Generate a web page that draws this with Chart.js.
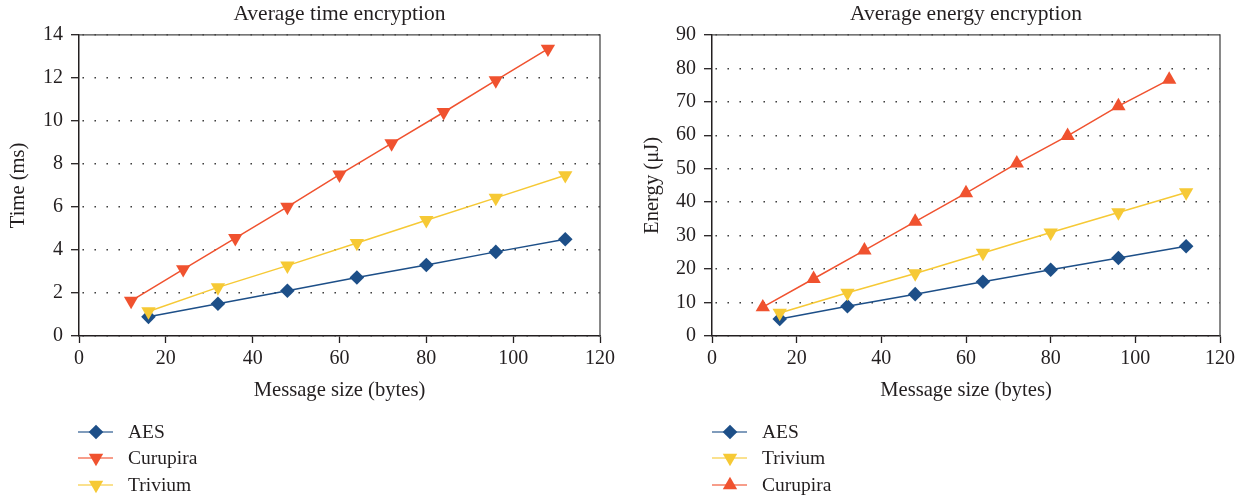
<!DOCTYPE html>
<html>
<head>
<meta charset="utf-8">
<script src="https://cdn.jsdelivr.net/npm/chart.js@4.4.1/dist/chart.umd.min.js"></script>
<style>
  html, body { margin: 0; padding: 0; background: #fff; width: 1246px; height: 498px; overflow: hidden; }
  body { font-family: "Liberation Serif", "Times New Roman", serif; color: #231f20; position: relative; }
  .panel { position: absolute; top: 0; width: 623px; height: 410px; }
  .legend { position: absolute; top: 0; width: 300px; height: 498px; font-size: 19.5px; }
  .legend .row { position: absolute; left: 0; height: 26px; width: 260px; }
  .legend svg { position: absolute; left: 0; top: 0; }
  .legend span { position: absolute; left: 52px; top: 0; line-height: 26px; white-space: nowrap; }
</style>
</head>
<body>
<div class="panel" style="left:0"><canvas id="timeChart" width="623" height="410"></canvas></div>
<div class="panel" style="left:623px"><canvas id="energyChart" width="623" height="410"></canvas></div>
<div class="legend" id="timeLegend" style="left:76px"></div>
<div class="legend" id="energyLegend" style="left:710px"></div>

<script>
// Message sizes (bytes) at which each cipher was measured
const blockSizes = [16, 32, 48, 64, 80, 96, 112];      // AES, Trivium
const curupiraSizes = [12, 24, 36, 48, 60, 72, 84, 96, 108];

// Average encryption time (ms)
const timeAES      = [0.89, 1.50, 2.10, 2.72, 3.30, 3.91, 4.50];
const timeTrivium  = [1.14, 2.26, 3.27, 4.32, 5.38, 6.42, 7.47];
const timeCurupira = [1.63, 3.10, 4.55, 6.00, 7.50, 8.95, 10.40, 11.88, 13.35];

// Average encryption energy (µJ)
const energyAES      = [5.1, 8.9, 12.5, 16.2, 19.8, 23.3, 26.8];
const energyTrivium  = [6.9, 12.9, 18.7, 24.8, 30.9, 36.9, 42.9];
const energyCurupira = [8.6, 17.1, 25.6, 34.2, 42.7, 51.6, 59.8, 68.7, 76.6];

// Axis tick values
const xTicks = [0, 20, 40, 60, 80, 100, 120];
const timeTicks = [0, 2, 4, 6, 8, 10, 12, 14];
const energyTicks = [0, 10, 20, 30, 40, 50, 60, 70, 80, 90];

const INK = '#231f20';
const BLUE = '#1d4f88';
const RED = '#f0522f';
const YELLOW = '#f6c935';

Chart.defaults.font.family = '"Liberation Serif", "Times New Roman", serif';
Chart.defaults.color = INK;

function points(xs, ys) {
  return xs.map((x, i) => ({ x: x, y: ys[i] }));
}

function series(label, xs, ys, color, shape) {
  const down = shape === 'down';
  return {
    label: label,
    data: points(xs, ys),
    borderColor: color,
    backgroundColor: color,
    borderWidth: 1.5,
    pointStyle: shape === 'diamond' ? 'rectRot' : 'triangle',
    pointRotation: down ? 180 : 0,
    pointRadius: shape === 'diamond' ? 7.3 : 8.3,
    pointBorderWidth: 0,
    pointBackgroundColor: color,
    showLine: true,
    fill: false,
    clip: false,
    _shape: shape
  };
}

// Top and right edges of the plotting frame
const framePlugin = {
  id: 'frame',
  beforeDatasetsDraw(chart) {
    const { ctx, chartArea: a } = chart;
    ctx.save();
    ctx.strokeStyle = '#4a4a4a';
    ctx.lineWidth = 1.3;
    ctx.beginPath();
    ctx.moveTo(a.left, a.top);
    ctx.lineTo(a.right, a.top);
    ctx.lineTo(a.right, a.bottom);
    ctx.stroke();
    ctx.restore();
  }
};

function makeChart(id, cfg) {
  const yTicks = cfg.yTicks;
  return new Chart(document.getElementById(id), {
    type: 'scatter',
    data: { datasets: cfg.datasets },
    plugins: [framePlugin],
    options: {
      responsive: false,
      animation: false,
      devicePixelRatio: 1,
      layout: { padding: { left: 0, right: cfg.padRight, top: 0, bottom: 0 } },
      plugins: {
        legend: { display: false },
        tooltip: { enabled: false },
        title: {
          display: true,
          text: cfg.title,
          fullSize: false,
          color: INK,
          font: { size: 21.5, weight: 'normal' },
          padding: { top: 1, bottom: 8 }
        }
      },
      scales: {
        x: {
          type: 'linear',
          min: xTicks[0],
          max: xTicks[xTicks.length - 1],
          afterBuildTicks(s) { s.ticks = xTicks.map(v => ({ value: v })); },
          afterFit(s) { s.height = 74; },
          ticks: { padding: 4, color: INK, font: { size: 20 }, maxRotation: 0 },
          grid: {
            drawOnChartArea: false,
            drawTicks: true,
            tickLength: 7,
            tickColor: INK,
            tickWidth: 1.3
          },
          border: { color: INK, width: 1.5 },
          title: {
            display: true,
            text: 'Message size (bytes)',
            color: INK,
            font: { size: 20.6 },
            padding: { top: 0, bottom: 7 }
          }
        },
        y: {
          type: 'linear',
          min: yTicks[0],
          max: yTicks[yTicks.length - 1],
          afterBuildTicks(s) { s.ticks = yTicks.map(v => ({ value: v })); },
          afterFit(s) { s.width = cfg.yWidth; },
          ticks: { padding: 8, color: INK, font: { size: 20 } },
          grid: {
            color: '#2a2a2a',
            lineWidth: 1.4,
            drawTicks: true,
            tickLength: 8,
            tickColor: INK,
            tickWidth: 1.3,
            tickBorderDash: []
          },
          // dotted horizontal grid lines; the axis line itself stays solid
          border: { color: INK, width: 1.5, dash: [1.4, 10.6], dashOffset: -3 },
          title: {
            display: true,
            text: cfg.yTitle,
            color: INK,
            font: { size: 20.6 },
            padding: { top: cfg.yTitlePad, bottom: 0 }
          }
        }
      }
    }
  });
}

// Legend rows: short line with the series marker, then the name
function markerSvg(ds) {
  const c = ds.borderColor;
  let shape;
  if (ds._shape === 'diamond') {
    shape = '<polygon points="20,5.7 27.3,13 20,20.3 12.7,13" fill="' + c + '"/>';
  } else if (ds._shape === 'down') {
    shape = '<polygon points="12.8,8.8 27.2,8.8 20,21.3" fill="' + c + '"/>';
  } else {
    shape = '<polygon points="20,4.7 27.2,17.2 12.8,17.2" fill="' + c + '"/>';
  }
  return '<svg width="40" height="26"><line x1="2" y1="13" x2="37" y2="13" stroke="' + c +
         '" stroke-opacity="0.75" stroke-width="1.6"/>' + shape + '</svg>';
}

function buildLegend(id, datasets, tops) {
  const box = document.getElementById(id);
  datasets.forEach((ds, i) => {
    const row = document.createElement('div');
    row.className = 'row';
    row.style.top = tops[i] + 'px';
    row.innerHTML = markerSvg(ds) + '<span>' + ds.label + '</span>';
    box.appendChild(row);
  });
}

const timeSets = [
  series('AES', blockSizes, timeAES, BLUE, 'diamond'),
  series('Curupira', curupiraSizes, timeCurupira, RED, 'down'),
  series('Trivium', blockSizes, timeTrivium, YELLOW, 'down')
];
const energySets = [
  series('AES', blockSizes, energyAES, BLUE, 'diamond'),
  series('Trivium', blockSizes, energyTrivium, YELLOW, 'down'),
  series('Curupira', curupiraSizes, energyCurupira, RED, 'up')
];

makeChart('timeChart', {
  title: 'Average time encryption',
  yTitle: 'Time (ms)',
  yTicks: timeTicks,
  datasets: timeSets.slice().reverse(),
  yWidth: 79,
  yTitlePad: 6,
  padRight: 23
});

makeChart('energyChart', {
  title: 'Average energy encryption',
  yTitle: 'Energy (\u03bcJ)',
  yTicks: energyTicks,
  datasets: energySets.slice().reverse(),
  yWidth: 89,
  yTitlePad: 17,
  padRight: 26
});

buildLegend('timeLegend', timeSets, [419, 445, 472]);
buildLegend('energyLegend', energySets, [419, 445, 472]);
</script>
</body>
</html>
